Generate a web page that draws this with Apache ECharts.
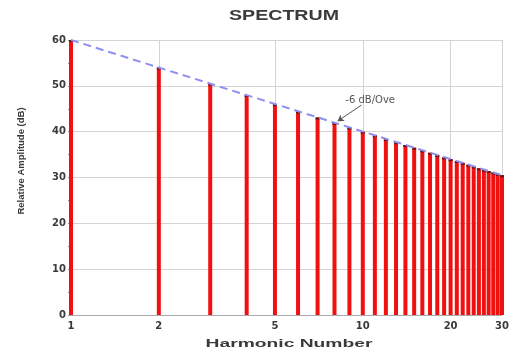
<!DOCTYPE html>
<html><head><meta charset="utf-8">
<script src="https://cdn.jsdelivr.net/npm/echarts@6/dist/echarts.min.js"></script>
<style>html,body{margin:0;padding:0;background:#fff}#c{width:524px;height:351px}</style>
</head><body><div id="c"></div>
<script>
const harmonics = [1,2,3,4,5,6,7,8,9,10,11,12,13,14,15,16,17,18,19,20,21,22,23,24,25,26,27,28,29,30];
const amplitudes = [60,54,50.5,48,46,44.4,43.1,41.9,40.9,40,39.2,38.4,37.7,37.1,36.5,35.9,35.4,34.9,34.4,34,33.6,33.2,32.8,32.4,32,31.7,31.4,31.1,30.8,30.5];
const xTicks = [1,2,5,10,20,30];
const slopeLine = [[1,60],[30,30.5]];
const slopeLabel = '-6 dB/Ove';
const titleText = 'SPECTRUM';
const xName = 'Harmonic Number';
const yName = 'Relative Amplitude (dB)';

const chart = echarts.init(document.getElementById('c'));
chart.setOption({
  animation:false,
  graphic:[
    {type:'text',x:284,y:16,scaleX:1.4,style:{text:titleText,font:'bold 14px "Liberation Sans"',fill:'#3a3a3a',align:'center',verticalAlign:'middle'}},
    {type:'text',x:289,y:344,scaleX:1.75,style:{text:xName,font:'bold 11px "Liberation Sans"',fill:'#3a3a3a',align:'center',verticalAlign:'middle'}},
    {type:'text',x:21,y:161,rotation:Math.PI/2,style:{text:yName,font:'bold 9.5px "Liberation Sans"',fill:'#3a3a3a',align:'center',verticalAlign:'middle'}}
  ],
  grid:{left:71,right:22,top:40,bottom:36},
  xAxis:{type:'log',logBase:10,min:1,max:30,
    axisLine:{show:true,lineStyle:{color:'#aaa'}},
    axisTick:{show:false,customValues:xTicks},
    axisLabel:{customValues:xTicks,fontFamily:'DejaVu Sans',fontSize:10,fontWeight:'bold',color:'#3a3a3a',margin:6},
    splitLine:{show:true,lineStyle:{color:'#d4d4d4'}}
  },
  yAxis:{type:'value',min:0,max:60,interval:10,
    axisLine:{show:true,lineStyle:{color:'#aaa'}},
    axisTick:{show:true,length:3,lineStyle:{color:'#999'}},
    minorTick:{show:true,splitNumber:2,length:3,lineStyle:{color:'#999'}},
    axisLabel:{fontFamily:'DejaVu Sans',fontSize:10,fontWeight:'bold',color:'#3a3a3a',margin:5},
    splitLine:{show:true,lineStyle:{color:'#d4d4d4'}}
  },
  series:[
    {type:'custom',data:harmonics.map((h,i)=>[h,amplitudes[i]]),
      renderItem:function(params,api){
        const top=api.coord([api.value(0),api.value(1)]);
        const bot=api.coord([api.value(0),0]);
        return {type:'group',children:[
          {type:'rect',shape:{x:top[0]-2,y:top[1],width:4,height:bot[1]-top[1]},style:{fill:'#f01010'}},
          {type:'rect',shape:{x:top[0]-2,y:top[1],width:4,height:2},style:{fill:'#661111'}}
        ]};
      },z:2},
    {type:'line',data:slopeLine,symbol:'none',z:3,
      lineStyle:{color:'#8f8ff0',width:2,type:[8,5]},
      markLine:{silent:true,symbol:['none','arrow'],symbolSize:6,
        lineStyle:{color:'#555',width:1,type:'solid'},
        label:{show:false},
        data:[[{coord:[9.9,45.8]},{coord:[8.2,42.3]}]]
      },
      markPoint:{silent:true,symbol:'circle',symbolSize:0,
        label:{show:true,position:'inside',formatter:slopeLabel,fontFamily:'DejaVu Sans',fontSize:10,color:'#555'},
        data:[{coord:[10.6,46.9]}]
      }
    }
  ]
});
</script></body></html>
